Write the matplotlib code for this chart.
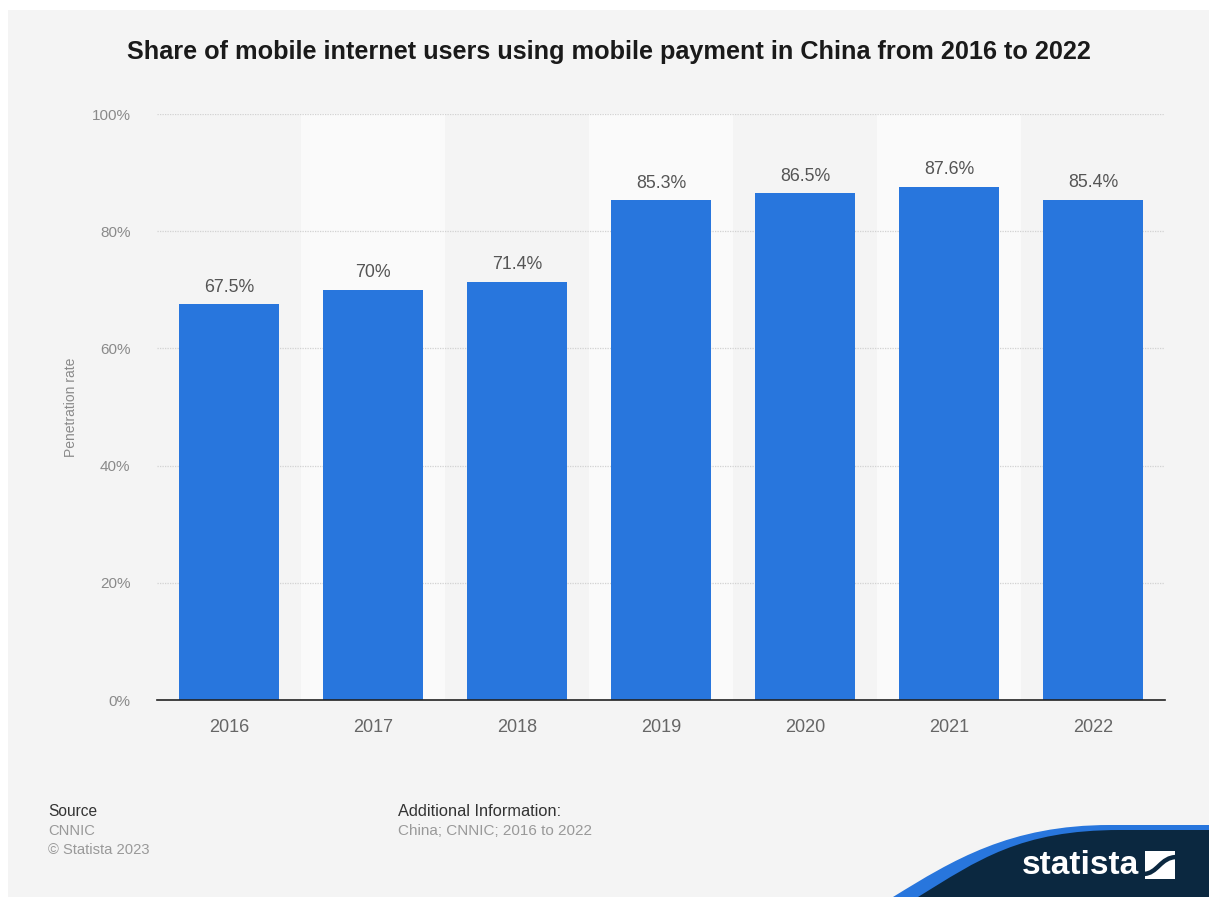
import matplotlib
matplotlib.use("Agg")
import matplotlib.pyplot as plt
from matplotlib.patches import Rectangle, PathPatch
from matplotlib.path import Path
import numpy as np

plt.rcParams['font.family'] = ['Liberation Sans', 'DejaVu Sans']

years = ['2016', '2017', '2018', '2019', '2020', '2021', '2022']
share = [67.5, 70, 71.4, 85.3, 86.5, 87.6, 85.4]
value_labels = ['67.5%', '70%', '71.4%', '85.3%', '86.5%', '87.6%', '85.4%']
y_ticks = [0, 20, 40, 60, 80, 100]

W, H = 1209, 897
fig = plt.figure(figsize=(W / 100, H / 100), dpi=100, facecolor='white')

# Background canvas (pixel coordinates, origin top-left)
bg = fig.add_axes([0, 0, 1, 1], zorder=0)
bg.set_xlim(0, W)
bg.set_ylim(H, 0)
bg.axis('off')
bg.add_patch(Rectangle((8, 10), W - 8, H - 10, facecolor='#f4f4f4', edgecolor='none'))


def ribbon(x0, y_flat, x_bend, color):
    """Smooth swoosh rising from the bottom edge to a flat top at y_flat."""
    verts = [(x0, H), (x0 + 60, 860), (x_bend - 60, y_flat), (x_bend + 40, y_flat),
             (W, y_flat), (W, H), (x0, H)]
    codes = [Path.MOVETO, Path.CURVE4, Path.CURVE4, Path.CURVE4,
             Path.LINETO, Path.LINETO, Path.CLOSEPOLY]
    bg.add_patch(PathPatch(Path(verts, codes), facecolor=color, edgecolor='none'))


# Brand ribbon in the lower right corner
ribbon(893, 825, 1070, '#2876dd')
ribbon(918, 830, 1080, '#0b2840')
bg.text(1080, 866, 'statista', color='white', fontsize=24, fontweight='bold',
        family=['Liberation Sans Narrow', 'Liberation Sans', 'DejaVu Sans'],
        ha='center', va='center')
bg.add_patch(Rectangle((1145, 851), 30, 28, facecolor='white', edgecolor='none'))
s_curve = Path([(1143, 874), (1158, 874), (1160, 857), (1177, 857)],
               [Path.MOVETO, Path.CURVE4, Path.CURVE4, Path.CURVE4])
bg.add_patch(PathPatch(s_curve, facecolor='none', edgecolor='#0b2840', lw=3.2))

# Title
bg.text(609, 52, 'Share of mobile internet users using mobile payment in China from 2016 to 2022',
        ha='center', va='center', fontsize=18.2, fontweight='bold', color='#1a1a1a')

# Footer
bg.text(48, 812, 'Source', fontsize=11.2, color='#333333', va='center', ha='left')
bg.text(48, 831, 'CNNIC', fontsize=10.6, color='#999999', va='center', ha='left')
bg.text(48, 850, '\u00a9 Statista 2023', fontsize=10.6, color='#999999', va='center', ha='left')
bg.text(398, 812, 'Additional Information:', fontsize=11.8, color='#333333', va='center', ha='left')
bg.text(398, 831, 'China; CNNIC; 2016 to 2022', fontsize=11, color='#999999', va='center', ha='left')

# Main chart
ax = fig.add_axes([157 / W, 1 - 700 / H, (1165 - 157) / W, (700 - 114) / H], zorder=1)
ax.set_facecolor('none')
x = np.arange(len(years))

for i in x:
    if i % 2 == 1:
        ax.axvspan(i - 0.5, i + 0.5, color='#fafafa', zorder=0, lw=0)

for t in y_ticks[1:]:
    ax.axhline(t, color='#d2d2d2', lw=0.9, ls=(0, (1, 1)), zorder=1)

bars = ax.bar(x, share, width=0.69, color='#2876dd', zorder=2)
for xi, v, lab in zip(x, share, value_labels):
    ax.annotate(lab, (xi, v), xytext=(0, 6), textcoords='offset points',
                ha='center', va='bottom', fontsize=12.8, color='#555555')

ax.set_xlim(-0.5, len(years) - 0.5)
ax.set_ylim(0, 100)
ax.set_xticks(x)
ax.set_xticklabels(years)
ax.set_yticks(y_ticks)
ax.set_yticklabels([f'{t}%' for t in y_ticks])
ax.tick_params(axis='x', length=0, pad=14, labelsize=13, labelcolor='#666666')
ax.tick_params(axis='y', length=0, pad=19, labelsize=11, labelcolor='#8a8a8a')
for side in ['top', 'right', 'left']:
    ax.spines[side].set_visible(False)
ax.spines['bottom'].set_color('#222222')
ax.spines['bottom'].set_linewidth(1.2)
ax.spines['bottom'].set_zorder(3)
ax.set_ylabel('Penetration rate', fontsize=10, color='#8a8a8a', labelpad=10)

fig.savefig('out.png', dpi=100, facecolor='white')
